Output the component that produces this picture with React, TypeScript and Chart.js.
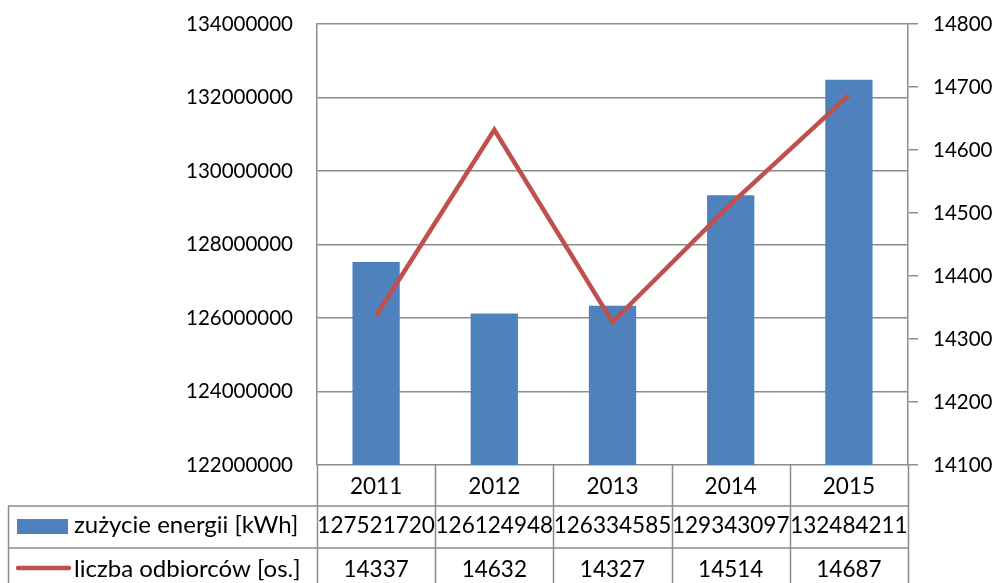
import React, { useEffect, useRef } from "react";
import { Chart, registerables } from "chart.js";

Chart.register(...registerables);

const categories = ["2011", "2012", "2013", "2014", "2015"];
const energy = [127521720, 126124948, 126334585, 129343097, 132484211];
const customers = [14337, 14632, 14327, 14514, 14687];
const energyLabel = "zużycie energii [kWh]";
const customersLabel = "liczba odbiorców [os.]";

const BAR_COLOR = "#4F81BD";
const LINE_COLOR = "#C0504D";
const GRID = "#8C8C8C";
const FONT = "Lato, 'Open Sans', sans-serif";

const tablePlugin = {
  id: "dataTable",
  afterDraw(chart: any) {
    const ctx = chart.ctx as CanvasRenderingContext2D;
    const area = chart.chartArea;
    const xs = chart.scales.x;
    const n = categories.length;
    const colW = (area.right - area.left) / n;
    const rowTop = area.bottom;
    const row1 = rowTop + 41;
    const row2 = row1 + 42;
    const tableBottom = chart.height + 10;
    const tableLeft = 8;
    ctx.save();
    ctx.strokeStyle = GRID;
    ctx.lineWidth = 1.5;
    ctx.beginPath();
    for (let i = 0; i <= n; i++) {
      const x = Math.round(area.left + i * colW) + 0.5;
      ctx.moveTo(x, rowTop);
      ctx.lineTo(x, tableBottom);
    }
    ctx.moveTo(tableLeft, row1);
    ctx.lineTo(area.right, row1);
    ctx.moveTo(tableLeft, row2);
    ctx.lineTo(area.right, row2);
    ctx.moveTo(tableLeft + 0.5, row1);
    ctx.lineTo(tableLeft + 0.5, tableBottom);
    ctx.stroke();

    ctx.fillStyle = "#000";
    ctx.font = `22.5px ${FONT}`;
    ctx.textAlign = "center";
    ctx.textBaseline = "alphabetic";
    categories.forEach((c, i) => {
      const cx = xs.getPixelForValue(i);
      ctx.fillText(c, cx, rowTop + 29);
      ctx.fillText(String(energy[i]), cx, row1 + 27);
      ctx.fillText(String(customers[i]), cx, row2 + 29);
    });

    // legend keys
    ctx.fillStyle = BAR_COLOR;
    ctx.fillRect(17, row1 + 13, 51, 15);
    ctx.strokeStyle = LINE_COLOR;
    ctx.lineWidth = 4.5;
    ctx.lineCap = "round";
    ctx.beginPath();
    ctx.moveTo(18, row2 + 20);
    ctx.lineTo(69, row2 + 20);
    ctx.stroke();

    ctx.fillStyle = "#000";
    ctx.textAlign = "left";
    ctx.font = `24px ${FONT}`;
    ctx.fillText(energyLabel, 74, row1 + 27);
    ctx.fillText(customersLabel, 74, row2 + 29);
    ctx.restore();
  },
};

export default function App() {
  const ref = useRef<HTMLCanvasElement | null>(null);
  useEffect(() => {
    if (!ref.current) return;
    const chart = new Chart(ref.current, {
      type: "bar",
      data: {
        labels: categories,
        datasets: [
          {
            type: "line",
            label: customersLabel,
            data: customers,
            yAxisID: "y1",
            borderColor: LINE_COLOR,
            backgroundColor: LINE_COLOR,
            borderWidth: 4.5,
            pointRadius: 0,
            tension: 0,
            order: 0,
          },
          {
            type: "bar",
            label: energyLabel,
            data: energy,
            yAxisID: "y",
            backgroundColor: BAR_COLOR,
            barPercentage: 0.4,
            categoryPercentage: 1,
            order: 1,
          },
        ],
      },
      options: {
        responsive: false,
        animation: false,
        devicePixelRatio: 1,
        layout: { padding: { top: 24, left: 0, right: 0, bottom: 0 } },
        plugins: { legend: { display: false }, tooltip: { enabled: false } },
        scales: {
          x: {
            grid: { display: false },
            border: { display: false },
            ticks: { display: false },
            afterFit: (s: any) => {
              s.height = 118;
              s.paddingLeft = 0;
              s.paddingRight = 0;
            },
          },
          y: {
            position: "left",
            min: 122000000,
            max: 134000000,
            ticks: {
              stepSize: 2000000,
              padding: 24,
              color: "#000",
              font: { family: FONT, size: 20.5 },
              callback: (v: any) => String(v),
            },
            grid: { color: GRID, lineWidth: 1.5, drawTicks: false },
            border: { display: true, color: GRID, width: 1.5 },
            afterFit: (s: any) => {
              s.width = 317;
              s.paddingTop = 0;
              s.paddingBottom = 0;
            },
          },
          y1: {
            position: "right",
            min: 14100,
            max: 14800,
            ticks: {
              stepSize: 100,
              padding: 15,
              color: "#000",
              font: { family: FONT, size: 20.5 },
              callback: (v: any) => String(v),
            },
            grid: {
              drawOnChartArea: false,
              drawTicks: true,
              tickLength: 10,
              color: GRID,
              lineWidth: 1.5,
            },
            border: { display: true, color: GRID, width: 1.5 },
            afterFit: (s: any) => {
              s.width = 96;
              s.paddingTop = 0;
              s.paddingBottom = 0;
            },
          },
        },
      },
      plugins: [tablePlugin],
    });
    return () => chart.destroy();
  }, []);
  return (
    <div style={{ position: "absolute", left: 0, top: 0, width: 1004, height: 583, background: "#fff" }}>
      <canvas ref={ref} width={1004} height={583} style={{ display: "block" }} />
    </div>
  );
}
